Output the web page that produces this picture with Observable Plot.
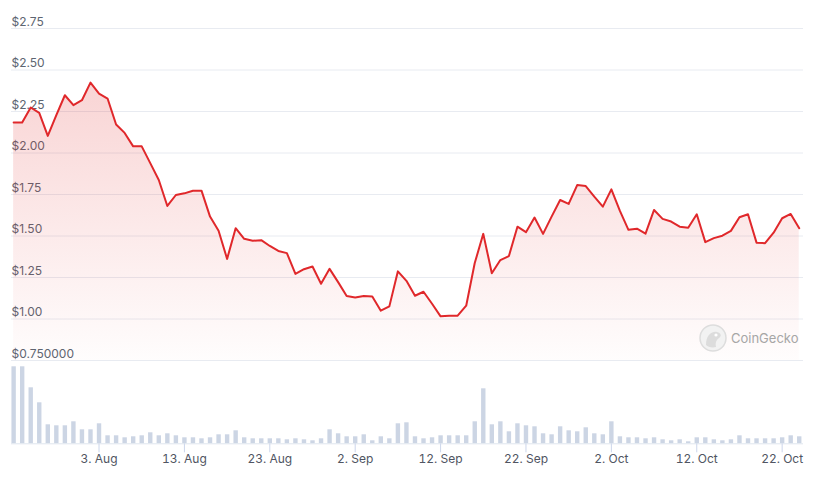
<!DOCTYPE html>
<html>
<head>
<meta charset="utf-8">
<script src="https://cdn.jsdelivr.net/npm/d3@7"></script>
<script src="https://cdn.jsdelivr.net/npm/@observablehq/plot@0.6"></script>
<style>
  html, body { margin: 0; padding: 0; background: #fff; }
  #wrap { position: relative; width: 813px; height: 477px; overflow: hidden; font-family: Inter, sans-serif; }
  #wrap svg { display: block; }
  #mark { position: absolute; left: 699px; top: 324px; display: flex; align-items: center; gap: 4px; color: #a6a6a6; font-size: 13px; font-family: Inter, sans-serif; }
</style>
</head>
<body>
<div id="wrap">
  <div id="price"></div>
  <div id="volume"></div>
  <div id="mark">
    <svg width="28" height="28" viewBox="0 0 28 28">
      <circle cx="14" cy="14" r="13" fill="#f2f2f2" stroke="#dddddd" stroke-width="1.5"/>
      <path d="M7 21 C7 12, 12 7, 18 8 C22 9, 23 12, 20 14 C17 16, 16 19, 17 23 C13 24, 9 23, 7 21 Z" fill="#dcdcdc"/>
      <circle cx="17" cy="11" r="1.6" fill="#ffffff"/>
    </svg>
    <span>CoinGecko</span>
  </div>
</div>
<script>
// ---- data ----
const startDate = "2023-07-24";
const prices = [
  2.184, 2.184, 2.274, 2.242, 2.103, 2.228, 2.348, 2.288, 2.318, 2.424,
  2.358, 2.328, 2.172, 2.121, 2.040, 2.040, 1.939, 1.837, 1.681, 1.747,
  1.757, 1.773, 1.773, 1.617, 1.532, 1.362, 1.547, 1.483, 1.471, 1.475,
  1.440, 1.410, 1.397, 1.272, 1.300, 1.316, 1.212, 1.302, 1.222, 1.138,
  1.130, 1.138, 1.136, 1.050, 1.076, 1.287, 1.230, 1.140, 1.164, 1.092,
  1.016, 1.020, 1.020, 1.080, 1.337, 1.513, 1.276, 1.355, 1.379, 1.556,
  1.523, 1.611, 1.513, 1.617, 1.717, 1.693, 1.807, 1.801, 1.737, 1.677,
  1.781, 1.651, 1.537, 1.544, 1.514, 1.657, 1.603, 1.587, 1.556, 1.550,
  1.631, 1.463, 1.487, 1.502, 1.531, 1.613, 1.631, 1.460, 1.457, 1.520,
  1.607, 1.633, 1.547
];
const volumes = [
  77, 77, 56, 41, 19, 18, 18, 22, 14, 14,
  20, 8, 8, 6, 7, 8, 11, 8, 10, 8,
  6, 6, 5, 6, 9, 9, 13, 6, 5, 5,
  5, 5, 4, 5, 4, 3, 5, 14, 10, 7,
  7, 9, 3, 7, 5, 20, 21, 7, 5, 6,
  8, 8, 8, 8, 22, 55, 19, 22, 12, 20,
  18, 17, 10, 9, 17, 13, 12, 16, 10, 9,
  22, 7, 6, 6, 5, 6, 4, 3, 4, 2,
  6, 6, 4, 3, 4, 8, 5, 5, 5, 5,
  6, 8, 7
];
const priceTicks = [0.75, 1.00, 1.25, 1.50, 1.75, 2.00, 2.25, 2.50, 2.75];
const priceTickLabels = ["$0.750000", "$1.00", "$1.25", "$1.50", "$1.75", "$2.00", "$2.25", "$2.50", "$2.75"];
const dateTicks = ["2023-08-03", "2023-08-13", "2023-08-23", "2023-09-02", "2023-09-12", "2023-09-22", "2023-10-02", "2023-10-12", "2023-10-22"];
const dateTickLabels = ["3. Aug", "13. Aug", "23. Aug", "2. Sep", "12. Sep", "22. Sep", "2. Oct", "12. Oct", "22. Oct"];

// ---- build table ----
const t0 = new Date(startDate + "T00:00:00Z");
const rows = prices.map((p, i) => ({ date: d3.utcDay.offset(t0, i), price: p, volume: volumes[i] }));
const tickDates = dateTicks.map(s => new Date(s + "T00:00:00Z"));
const xDomain = [d3.utcHour.offset(t0, -6), d3.utcHour.offset(rows[rows.length - 1].date, 12)];

const common = {
  width: 813,
  marginLeft: 11,
  marginRight: 10,
  style: { fontFamily: "Inter, sans-serif", fontSize: "12px", background: "transparent", overflow: "visible" },
  x: { type: "utc", domain: xDomain }
};

const gradientDefs = () => {
  const ns = "http://www.w3.org/2000/svg";
  const defs = document.createElementNS(ns, "defs");
  defs.innerHTML = `<linearGradient id="priceGrad" x1="0" y1="0" x2="0" y2="1">
      <stop offset="0" stop-color="#e12a2a" stop-opacity="0.2"/>
      <stop offset="1" stop-color="#e12a2a" stop-opacity="0.01"/>
    </linearGradient>`;
  return defs;
};

const pricePlot = Plot.plot({
  ...common,
  height: 362,
  marginTop: 28,
  marginBottom: 2,
  y: { domain: [0.75, 2.75] },
  marks: [
    gradientDefs,
    Plot.ruleY(priceTicks, { stroke: "#e8ebf1", strokeWidth: 1 }),
    Plot.text(priceTicks, {
      y: d => d,
      text: (d, i) => priceTickLabels[i],
      frameAnchor: "left",
      textAnchor: "start",
      lineAnchor: "bottom",
      dy: -3,
      fill: "#5d6571",
      fontSize: 12
    }),
    Plot.areaY(rows, { x: "date", y1: 0.75, y2: "price", fill: "url(#priceGrad)" }),
    Plot.lineY(rows, { x: "date", y: "price", stroke: "#e0282b", strokeWidth: 2 })
  ],
  axis: null
});

const volumePlot = Plot.plot({
  ...common,
  height: 115,
  marginTop: 1.3,
  marginBottom: 33.7,
  y: { domain: [0, 80], axis: null },
  marks: [
    Plot.ruleX(rows, { x: "date", y1: 0, y2: "volume", stroke: "#ccd5e4", strokeWidth: 4.4 }),
    Plot.ruleY([0], { stroke: "#dfe5ee" }),
    Plot.axisX({
      ticks: tickDates,
      tickFormat: (d, i) => dateTickLabels[i],
      tickSize: 9,
      tickPadding: 2,
      stroke: "#ccd6eb",
      fill: "#505562",
      fontSize: 12,
      label: null
    })
  ]
});

document.getElementById("price").appendChild(pricePlot);
document.getElementById("volume").appendChild(volumePlot);
</script>
</body>
</html>
